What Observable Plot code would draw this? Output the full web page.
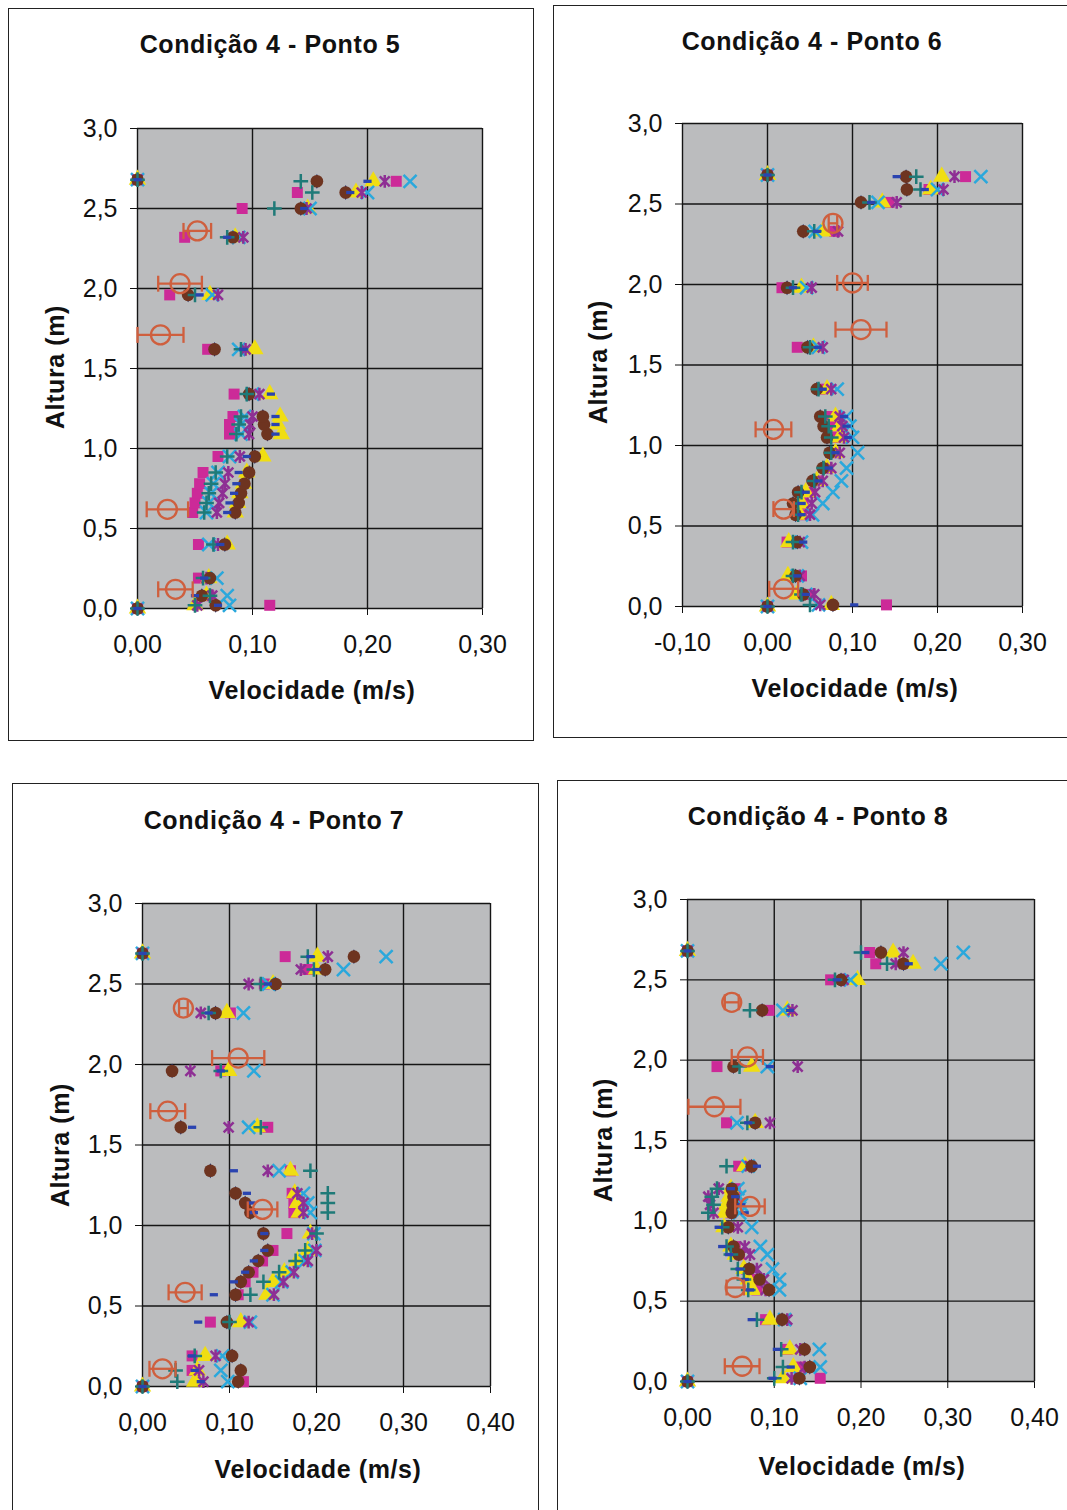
<!DOCTYPE html>
<html><head><meta charset="utf-8">
<script src="https://cdn.jsdelivr.net/npm/d3@7"></script>
<script src="https://cdn.jsdelivr.net/npm/@observablehq/plot@0.6"></script>
<style>
body{margin:0;background:#fff;}
#page{position:relative;width:1067px;height:1510px;overflow:hidden;background:#fff;font-family:"Liberation Sans",Arial,sans-serif;}
.frame{position:absolute;border:1.5px solid #222;box-sizing:border-box;}
.lbl{position:absolute;font-weight:bold;font-size:25px;letter-spacing:0.6px;white-space:nowrap;color:#111;line-height:1;}
.plot{position:absolute;}
</style></head><body><div id="page"></div>
<script>
// ---------- DATA ----------
const yTicks = [0, 0.5, 1.0, 1.5, 2.0, 2.5, 3.0];
const xTicksP5 = [0, 0.1, 0.2, 0.3];
const xTicksP6 = [-0.1, 0, 0.1, 0.2, 0.3];
const xTicksP7 = [0, 0.1, 0.2, 0.3, 0.4];
const xTicksP8 = [0, 0.1, 0.2, 0.3, 0.4];
const titles = ["Condição 4 - Ponto 5", "Condição 4 - Ponto 6", "Condição 4 - Ponto 7", "Condição 4 - Ponto 8"];
const xLabel = "Velocidade (m/s)";
const yLabel = "Altura (m)";

// boundary points (velocity 0 at bottom and at surface)
const boundaryP5 = [0, 2.68];
const boundaryP6 = [0, 2.68];
const boundaryP7 = [0, 2.69];
const boundaryP8 = [0, 2.68];

// ---- Ponto 5 ----
const heightsP5 = [0.02, 0.08, 0.19, 0.40, 0.60, 0.66, 0.72, 0.78, 0.85, 0.95, 1.09, 1.15, 1.20, 1.34, 1.62, 1.96, 2.32, 2.50, 2.60, 2.67];
const navyP5    = [0.068, 0.056, 0.063, 0.076, 0.085, 0.088, 0.090, 0.093, 0.097, 0.102, 0.113, 0.110, 0.109, 0.097, 0.067, 0.044, 0.083, 0.142, 0.181, 0.156];
const magentaP5 = [0.115, 0.062, 0.053, 0.053, 0.048, 0.050, 0.052, 0.054, 0.057, 0.070, 0.080, 0.080, 0.083, 0.084, 0.061, 0.028, 0.041, 0.091, 0.139, 0.225];
const yellowP5  = [0.050, 0.060, 0.062, 0.078, 0.085, 0.087, 0.089, 0.092, 0.095, 0.109, 0.125, 0.122, 0.124, 0.115, 0.102, 0.063, 0.085, 0.148, 0.190, 0.205];
const cyanP5    = [0.080, 0.078, 0.069, 0.062, 0.060, 0.062, 0.064, 0.066, 0.070, 0.080, 0.090, 0.090, 0.093, 0.100, 0.088, 0.065, 0.088, 0.150, 0.200, 0.237];
const purpleP5  = [0.052, 0.065, 0.060, 0.070, 0.069, 0.071, 0.074, 0.076, 0.079, 0.089, 0.097, 0.098, 0.100, 0.106, 0.094, 0.070, 0.092, 0.147, 0.195, 0.215];
const brownP5   = [0.068, 0.056, 0.063, 0.076, 0.085, 0.088, 0.090, 0.093, 0.097, 0.102, 0.113, 0.110, 0.109, 0.097, 0.067, 0.044, 0.083, 0.142, 0.181, 0.156];
const tealP5    = [0.050, 0.063, 0.057, 0.066, 0.058, 0.060, 0.062, 0.064, 0.068, 0.078, 0.086, 0.088, 0.090, 0.095, 0.090, 0.050, 0.078, 0.119, 0.152, 0.142];
const blueP5    = [0.070, 0.050, 0.058, 0.072, 0.078, 0.080, 0.084, 0.086, 0.088, 0.095, 0.120, 0.120, 0.120, 0.116, 0.092, 0.054, 0.078, 0.145, 0.185, 0.200];
const measYP5 = [0.12, 0.62, 1.71, 2.03, 2.36];
const measXP5 = [0.033, 0.026, 0.020, 0.037, 0.052];
const measEP5 = [0.015, 0.018, 0.020, 0.019, 0.012];

// ---- Ponto 6 ----
const heightsP6 = [0.01, 0.075, 0.19, 0.40, 0.57, 0.64, 0.71, 0.78, 0.86, 0.955, 1.05, 1.12, 1.18, 1.35, 1.61, 1.98, 2.33, 2.51, 2.59, 2.67];
const navyP6    = [0.077, 0.042, 0.033, 0.035, 0.033, 0.030, 0.036, 0.053, 0.065, 0.073, 0.070, 0.066, 0.062, 0.058, 0.047, 0.023, 0.042, 0.110, 0.164, 0.163];
const magentaP6 = [0.140, 0.050, 0.040, 0.023, 0.040, 0.042, 0.048, 0.060, 0.070, 0.077, 0.080, 0.078, 0.075, 0.062, 0.035, 0.017, 0.079, 0.143, 0.190, 0.233];
const yellowP6  = [0.075, 0.035, 0.024, 0.025, 0.038, 0.040, 0.045, 0.058, 0.070, 0.080, 0.085, 0.085, 0.080, 0.070, 0.054, 0.040, 0.065, 0.135, 0.192, 0.205];
const cyanP6    = [0.060, 0.045, 0.035, 0.040, 0.053, 0.065, 0.077, 0.087, 0.093, 0.106, 0.100, 0.097, 0.093, 0.082, 0.060, 0.046, 0.056, 0.130, 0.200, 0.251];
const purpleP6  = [0.062, 0.055, 0.038, 0.038, 0.050, 0.052, 0.056, 0.065, 0.075, 0.085, 0.090, 0.088, 0.085, 0.075, 0.065, 0.052, 0.083, 0.152, 0.207, 0.220];
const brownP6   = [0.077, 0.042, 0.033, 0.035, 0.033, 0.030, 0.036, 0.053, 0.065, 0.073, 0.070, 0.066, 0.062, 0.058, 0.047, 0.023, 0.042, 0.110, 0.164, 0.163];
const tealP6    = [0.050, 0.040, 0.030, 0.030, 0.036, 0.036, 0.040, 0.055, 0.066, 0.075, 0.075, 0.072, 0.068, 0.060, 0.050, 0.030, 0.055, 0.120, 0.180, 0.175];
const blueP6    = [0.102, 0.045, 0.035, 0.042, 0.040, 0.040, 0.045, 0.060, 0.072, 0.080, 0.095, 0.093, 0.090, 0.065, 0.059, 0.030, 0.058, 0.122, 0.185, 0.152];
const measYP6 = [0.11, 0.605, 1.10, 1.72, 2.01, 2.38];
const measXP6 = [0.019, 0.019, 0.007, 0.110, 0.100, 0.077];
const measEP6 = [0.017, 0.012, 0.021, 0.030, 0.018, 0.005];

// ---- Ponto 7 ----
const heightsP7 = [0.03, 0.10, 0.19, 0.40, 0.57, 0.65, 0.71, 0.78, 0.845, 0.95, 1.08, 1.14, 1.20, 1.34, 1.61, 1.96, 2.32, 2.50, 2.59, 2.67];
const navyP7    = [0.110, 0.113, 0.103, 0.097, 0.107, 0.113, 0.122, 0.133, 0.144, 0.139, 0.124, 0.118, 0.107, 0.078, 0.044, 0.034, 0.084, 0.153, 0.210, 0.243];
const magentaP7 = [0.116, 0.057, 0.057, 0.078, 0.110, 0.118, 0.127, 0.138, 0.150, 0.166, 0.174, 0.174, 0.172, 0.170, 0.144, 0.090, 0.101, 0.140, 0.190, 0.164];
const yellowP7  = [0.060, 0.063, 0.072, 0.113, 0.143, 0.150, 0.163, 0.178, 0.190, 0.193, 0.180, 0.178, 0.175, 0.170, 0.132, 0.099, 0.097, 0.150, 0.200, 0.201];
const cyanP7    = [0.098, 0.090, 0.092, 0.124, 0.150, 0.160, 0.172, 0.187, 0.198, 0.197, 0.193, 0.190, 0.185, 0.157, 0.122, 0.128, 0.116, 0.145, 0.231, 0.280];
const purpleP7  = [0.070, 0.065, 0.084, 0.122, 0.151, 0.162, 0.174, 0.190, 0.200, 0.195, 0.185, 0.185, 0.178, 0.144, 0.099, 0.055, 0.067, 0.122, 0.182, 0.213];
const brownP7   = [0.110, 0.113, 0.103, 0.097, 0.107, 0.113, 0.122, 0.133, 0.144, 0.139, 0.124, 0.118, 0.107, 0.078, 0.044, 0.034, 0.084, 0.153, 0.210, 0.243];
const tealP7    = [0.040, 0.038, 0.060, 0.100, 0.124, 0.139, 0.157, 0.176, 0.187, 0.200, 0.213, 0.213, 0.213, 0.193, 0.136, 0.090, 0.076, 0.136, 0.197, 0.190];
const blueP7    = [0.067, 0.060, 0.057, 0.064, 0.082, 0.105, 0.118, 0.128, 0.140, 0.140, 0.128, 0.125, 0.120, 0.105, 0.057, 0.090, 0.076, 0.144, 0.200, 0.193];
const measYP7 = [0.11, 0.585, 1.10, 1.71, 2.04, 2.35];
const measXP7 = [0.023, 0.049, 0.138, 0.029, 0.110, 0.047];
const measEP7 = [0.015, 0.019, 0.017, 0.020, 0.030, 0.005];

// ---- Ponto 8 ----
const heightsP8 = [0.02, 0.09, 0.20, 0.385, 0.57, 0.635, 0.70, 0.79, 0.84, 0.96, 1.05, 1.10, 1.15, 1.20, 1.34, 1.61, 1.96, 2.31, 2.50, 2.60, 2.67];
const navyP8    = [0.129, 0.141, 0.135, 0.109, 0.094, 0.083, 0.071, 0.059, 0.053, 0.047, 0.051, 0.052, 0.053, 0.051, 0.074, 0.078, 0.053, 0.086, 0.177, 0.249, 0.223];
const magentaP8 = [0.153, 0.130, 0.115, 0.090, 0.080, 0.075, 0.068, 0.060, 0.055, 0.045, 0.050, 0.052, 0.055, 0.055, 0.059, 0.045, 0.034, 0.094, 0.165, 0.217, 0.210];
const yellowP8  = [0.110, 0.122, 0.118, 0.095, 0.075, 0.070, 0.065, 0.055, 0.050, 0.042, 0.043, 0.045, 0.048, 0.050, 0.066, 0.078, 0.074, 0.115, 0.196, 0.260, 0.237];
const cyanP8    = [0.130, 0.153, 0.152, 0.112, 0.106, 0.106, 0.098, 0.092, 0.084, 0.074, 0.060, 0.062, 0.060, 0.058, 0.070, 0.057, 0.092, 0.110, 0.188, 0.292, 0.318];
const purpleP8  = [0.120, 0.135, 0.130, 0.115, 0.090, 0.088, 0.080, 0.072, 0.066, 0.058, 0.030, 0.026, 0.024, 0.036, 0.072, 0.095, 0.127, 0.121, 0.180, 0.240, 0.249];
const brownP8   = [0.129, 0.141, 0.135, 0.109, 0.094, 0.083, 0.071, 0.059, 0.053, 0.047, 0.051, 0.052, 0.053, 0.051, 0.074, 0.078, 0.053, 0.086, 0.177, 0.249, 0.223];
const tealP8    = [0.100, 0.110, 0.108, 0.080, 0.070, 0.065, 0.058, 0.050, 0.045, 0.040, 0.024, 0.030, 0.028, 0.034, 0.045, 0.069, 0.060, 0.072, 0.170, 0.230, 0.200];
const blueP8    = [0.098, 0.119, 0.103, 0.074, 0.072, 0.066, 0.060, 0.048, 0.040, 0.036, 0.066, 0.062, 0.055, 0.050, 0.080, 0.070, 0.095, 0.118, 0.172, 0.255, 0.205];
const measYP8 = [0.095, 0.585, 1.09, 1.71, 2.02, 2.36];
const measXP8 = [0.063, 0.055, 0.072, 0.031, 0.069, 0.051];
const measEP8 = [0.020, 0.010, 0.017, 0.030, 0.018, 0.008];

// ---------- STYLE / LAYOUT ----------
const dash = {draw(ctx, size){ const s = Math.sqrt(size); const w = s*0.42, h = s*0.17; ctx.rect(-w, -h, 2*w, 2*h); }};
const star = {draw(ctx, size){ const r = Math.sqrt(size)*0.5; const d = r*0.78;
  ctx.moveTo(0,-r); ctx.lineTo(0,r); ctx.moveTo(-d,-d); ctx.lineTo(d,d); ctx.moveTo(-d,d); ctx.lineTo(d,-d); }};
const cap = {draw(ctx, size){ const r = Math.sqrt(size)/2; ctx.moveTo(0,-r); ctx.lineTo(0,r); }};

const styles = [
  {symbol: "diamond", fill: "#1e2b6e", r: 4.5},
  {symbol: "square", fill: "#cc2a98", r: 6.2},
  {symbol: "triangle", fill: "#f0de12", r: 6.5},
  {symbol: "times", stroke: "#2aa8dc", r: 6},
  {symbol: star, stroke: "#8e2f94", r: 7.2},
  {symbol: "circle", fill: "#6e3420", r: 6.3},
  {symbol: "plus", stroke: "#1f7a78", r: 4.8},
  {symbol: dash, fill: "#2a43b0", r: 5.5}
];
const measColor = "#cf5f3e";
const plotGray = "#bbbcbe";

const loc = d3.formatLocale({decimal: ",", thousands: ".", grouping: [3], currency: ["", ""], minus: "-"});
const fx = loc.format(".2f");
const fy = loc.format(".1f");

const panels = [
  {title: titles[0], heights: heightsP5, series: [navyP5, magentaP5, yellowP5, cyanP5, purpleP5, brownP5, tealP5, blueP5],
   my: measYP5, mx: measXP5, me: measEP5, boundary: boundaryP5, xTicks: xTicksP5,
   frame: [8, 8, 526, 733], svg: [8, 8, 525, 732], m: [120, 51, 132, 129],
   t: [270, 44], xl: [312, 690], yl: [55, 367]},
  {title: titles[1], heights: heightsP6, series: [navyP6, magentaP6, yellowP6, cyanP6, purpleP6, brownP6, tealP6, blueP6],
   my: measYP6, mx: measXP6, me: measEP6, boundary: boundaryP6, xTicks: xTicksP6,
   frame: [553, 5, 530, 733], svg: [553, 5, 514, 732], m: [118, 45, 131, 129],
   t: [812, 41], xl: [855, 688], yl: [598, 362]},
  {title: titles[2], heights: heightsP7, series: [navyP7, magentaP7, yellowP7, cyanP7, purpleP7, brownP7, tealP7, blueP7],
   my: measYP7, mx: measXP7, me: measEP7, boundary: boundaryP7, xTicks: xTicksP7,
   frame: [12, 783, 527, 740], svg: [12, 783, 526, 727], m: [120, 48, 124, 130],
   t: [274, 820], xl: [318, 1469], yl: [60, 1145]},
  {title: titles[3], heights: heightsP8, series: [navyP8, magentaP8, yellowP8, cyanP8, purpleP8, brownP8, tealP8, blueP8],
   my: measYP8, mx: measXP8, me: measEP8, boundary: boundaryP8, xTicks: xTicksP8,
   frame: [557, 780, 530, 740], svg: [557, 780, 510, 730], m: [119, 33, 129, 130],
   t: [818, 816], xl: [862, 1466], yl: [603, 1140]}
];

const page = document.getElementById("page");
function label(text, cx, cy, rotate) {
  const d = document.createElement("div");
  d.className = "lbl";
  d.textContent = text;
  d.style.left = cx + "px"; d.style.top = cy + "px";
  d.style.transform = "translate(-50%,-50%)" + (rotate ? " rotate(-90deg)" : "");
  page.appendChild(d);
}

for (const p of panels) {
  const fr = document.createElement("div");
  fr.className = "frame";
  fr.style.left = p.frame[0] + "px"; fr.style.top = p.frame[1] + "px";
  fr.style.width = p.frame[2] + "px"; fr.style.height = p.frame[3] + "px";
  page.appendChild(fr);

  const dotMarks = styles.map((st, i) => {
    const vals = p.series[i];
    const data = p.heights.map((h, j) => ({x: vals[j], y: h})).filter(d => d.x != null)
      .concat(p.boundary.map(b => ({x: 0, y: b})));
    const o = {x: "x", y: "y", r: st.r, symbol: st.symbol};
    if (st.fill) { o.fill = st.fill; o.stroke = "none"; }
    else { o.stroke = st.stroke; o.fill = "none"; o.strokeWidth = 2.5; }
    return Plot.dot(data, o);
  });
  const meas = p.my.map((y, j) => ({y, x: p.mx[j], lo: p.mx[j] - p.me[j], hi: p.mx[j] + p.me[j]}));

  const chart = Plot.plot({
    width: p.svg[2], height: p.svg[3],
    marginTop: p.m[0], marginRight: p.m[1], marginBottom: p.m[2], marginLeft: p.m[3],
    style: {fontFamily: "Liberation Sans, Arial, sans-serif", fontSize: "25px", color: "#111", background: "transparent", overflow: "visible"},
    x: {domain: [p.xTicks[0], p.xTicks[p.xTicks.length - 1]], ticks: p.xTicks, tickFormat: fx, tickSize: 7, tickPadding: 20, label: null},
    y: {domain: [0, 3], ticks: yTicks, tickFormat: fy, tickSize: 7, tickPadding: 13, label: null},
    marks: [
      Plot.frame({fill: plotGray, stroke: "none"}),
      Plot.ruleX(p.xTicks, {stroke: "#151515", strokeWidth: 1.4}),
      Plot.ruleY(yTicks, {stroke: "#151515", strokeWidth: 1.4}),
      ...dotMarks,
      Plot.ruleY(meas, {y: "y", x1: "lo", x2: "hi", stroke: measColor, strokeWidth: 2.3}),
      Plot.dot(meas, {x: "lo", y: "y", symbol: cap, r: 9, stroke: measColor, strokeWidth: 2.3, fill: "none"}),
      Plot.dot(meas, {x: "hi", y: "y", symbol: cap, r: 9, stroke: measColor, strokeWidth: 2.3, fill: "none"}),
      Plot.dot(meas, {x: "x", y: "y", r: 9.5, stroke: measColor, strokeWidth: 2.3, fill: "none"})
    ]
  });
  chart.classList.add("plot");
  chart.style.left = p.svg[0] + "px"; chart.style.top = p.svg[1] + "px";
  chart.style.position = "absolute";
  page.appendChild(chart);

  label(p.title, p.t[0], p.t[1], false);
  label(xLabel, p.xl[0], p.xl[1], false);
  label(yLabel, p.yl[0], p.yl[1], true);
}
</script>
</body></html>
